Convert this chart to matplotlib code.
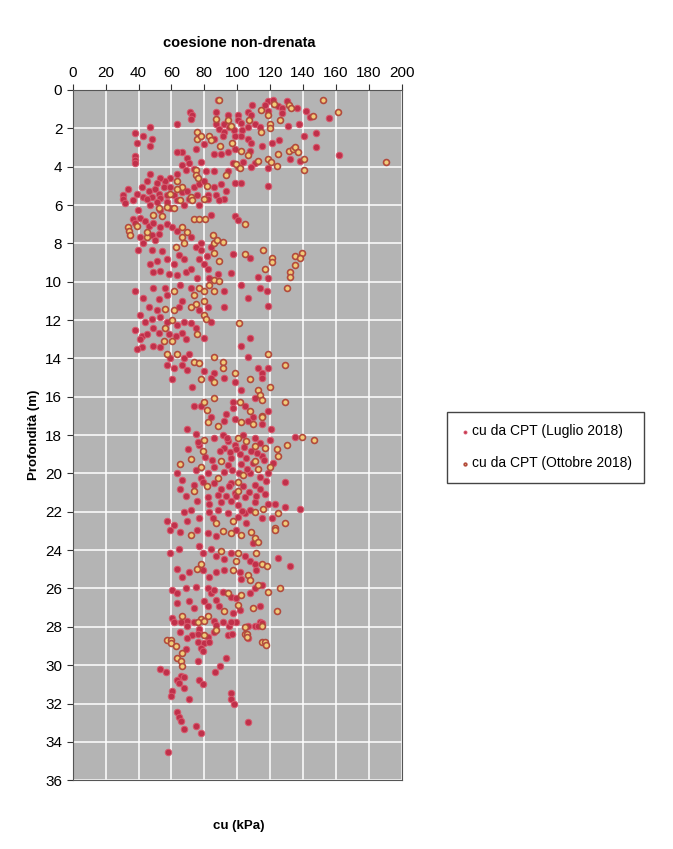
import matplotlib.pyplot as plt

plt.rcParams['font.family'] = ['Liberation Sans', 'DejaVu Sans']

# cu da CPT (Luglio 2018): cu [kPa], profondita [m]
cu_lug = [88.1, 118.5, 122, 130.2, 109, 116.8, 125, 127.1, 136.3, 141.9, 71.3, 72.7, 72.1, 87.1, 94.3,
          100.4, 106.6, 108.2, 118.9, 127.1, 137.3, 144.5, 155.8, 87.1, 92.2, 95.3, 100.4, 102.5, 89.1, 92.2,
          98, 102.9, 106.6, 110.7, 113.7, 102.5, 106.6, 108.6, 98.4, 91.2, 86.1, 79.9, 74.8, 90.2, 86.1,
          94.3, 98.4, 107.6, 114.8, 120.9, 125.4, 130.8, 140.4, 147.6, 147.6, 162, 132.2, 138.4, 118.9, 110.7,
          108.2, 103.5, 97.3, 100.4, 94.3, 86.1, 77.9, 69.6, 66.6, 63.5, 70.7, 66.6, 68.6, 73.7, 80.9,
          63.5, 59.4, 56.3, 53.2, 51.2, 47.1, 45, 42, 46.1, 50.2, 55.3, 59.4, 52.2, 57.3, 61.4,
          66.6, 69.6, 73.7, 76.8, 79.9, 86.1, 90.2, 93.2, 98.4, 102.5, 118.9, 33.7, 30.7, 38.9, 43,
          48.1, 53.2, 75.8, 82, 87.1, 92.2, 37.8, 38.9, 43, 47.1, 48.1, 46.7, 37.8, 37.8, 37.8, 63.5,
          30.7, 31.7, 36.8, 39.9, 45, 47.1, 51.2, 53.2, 57.3, 59.4, 63.5, 67.6, 70.7, 76.8, 82,
          89.1, 84, 98.4, 100.4, 36.8, 37.8, 40.9, 44, 46.1, 49.1, 53.2, 57.3, 60.4, 63.5, 71.7,
          40.9, 48.1, 50.2, 43, 52.2, 39.9, 48.1, 54.3, 57.3, 51.2, 47.1, 64.5, 67.6, 61.4, 49.1,
          53.2, 58.4, 63.5, 68.6, 74.8, 77.9, 76.8, 79.9, 81.9, 77.9, 84, 82, 88.1, 83, 75.8,
          71.7, 97.3, 96.3, 107.6, 112.7, 118.9, 37.8, 43, 49.1, 52.2, 56.3, 57.3, 65.5, 66.6, 71.7,
          92.2, 102.5, 106.6, 113.8, 117.9, 118.9, 92.2, 82,
          46.1, 51.2, 64.5, 76.8, 84, 40.9, 44, 48.1, 53.2, 57.3, 63.5, 67.6, 71.7, 74.8, 37.8,
          42, 40.9, 45, 49.1, 52.2, 58.4, 62.5, 66.6, 68.6, 79.9, 42, 49.1, 53.2, 59.4, 67.6,
          70.7, 57.3, 61.4, 66.6, 69.6, 60.4, 72.7, 107.6, 102.5, 106.6, 86.1, 84, 79.9, 92.2, 98.4,
          112.7, 114.8, 118.9, 114.8, 102.5, 73.7, 77.9, 97.3, 104.5, 110.7, 118.9, 93.2, 97.3, 109.6, 38.9,
          84, 92.2, 98.4, 106.6, 114.8, 69.6, 74.8, 76.8, 86.1, 91.2, 94.3, 92.2, 98.4, 103.5, 110.7,
          113.7, 119.9, 120.5, 135.3, 63.5, 66.6, 74.8, 82, 86.1, 94.3, 96.3, 102.5, 101.4, 105.6, 108.6,
          114.8, 107.6, 113.7, 118.9, 92.2, 77.9, 73.7, 78.9, 86.1, 90.2, 129.1, 96.3, 103.5, 110.7, 113.7,
          116.8, 98.4, 65.5, 68.6, 75.8, 82, 83, 90.2, 93.2, 96.3, 100.4, 104.5, 110.7, 118.9, 122.9,
          129.1, 138.3, 67.6, 71.7, 61.4, 69.6, 76.8, 83, 88.1, 94.3, 100.4, 104.5, 105.6, 114.8, 120.9,
          57.3, 95.5, 99.0, 104.0, 97.0, 101.0, 106.0, 109.5, 112.0, 116.0, 95.0, 99.5, 108.0, 111.5, 88.5,
          84.5, 80.5, 94.0, 117.5, 121.5, 89.5, 103.0, 107.0, 85.5, 76.0, 70.0,
          59.4, 65.5, 75.8, 82, 87.1, 99.4, 109.6, 59.4, 64.5, 76.8, 78.9, 84, 87.1, 92.2, 96.3,
          104.5, 107.6, 110.7, 125, 132.2, 79, 63.5, 66.6, 70.7, 82.9, 87.1, 92.2, 101.4, 102.5, 111.7,
          114.8, 60.4, 63.5, 68.6, 74.8, 82, 84, 86.1, 91.2, 96.3, 99.4, 107.6, 110.7, 63.5, 70.7,
          73.7, 79.9, 82, 87.1, 89.1, 97.3, 101.4, 113.7, 60.4, 69.6, 73.7, 86.1, 91.2, 95.3, 99.4,
          110.7, 113.7, 65.5, 72.7, 76.8, 82, 86.1, 94.3,
          61.5, 65.6, 87.2, 96.4, 106.7, 112.9, 114.9, 69.7, 76.9, 97.1, 106.7, 69.7, 75.9, 75.9, 80,
          83.1, 77.9, 79, 68.6, 93.4, 89.3, 86.2, 75.9, 53.3, 57, 65.6, 67.6, 63.6, 64.6, 76.9,
          79, 67.6, 60.5, 59.5, 70.8, 96, 96.4, 97.9, 63.6, 64.6, 65.6, 67.6, 74.9, 78, 106.7,
          57.9]
z_lug = [0.53, 0.55, 0.5, 0.55, 0.78, 0.78, 0.83, 0.92, 0.95, 1.08, 1.17, 1.33, 1.5, 1.17, 1.33,
         1.33, 1.17, 1.28, 1.08, 1.22, 1.75, 1.42, 1.45, 1.75, 1.75, 1.95, 1.58, 1.72, 2.05, 2.17,
         2.08, 2.08, 1.95, 1.75, 1.92, 2.42, 2.58, 2.75, 2.42, 2.42, 2.58, 2.83, 3.08, 3.33, 3.33,
         3.25, 3.08, 3.17, 2.92, 2.75, 2.62, 1.88, 2.38, 2.22, 2.95, 3.38, 3.58, 3.72, 4.08, 3.83,
         4.0, 3.75, 3.83, 4.0, 4.25, 4.25, 3.75, 3.55, 3.25, 3.22, 3.83, 3.92, 4.17, 4.12, 4.25,
         4.38, 4.58, 4.75, 4.58, 4.83, 4.38, 4.75, 5.08, 5.25, 5.17, 5.08, 5.08, 5.42, 5.5, 5.5,
         5.33, 5.25, 5.08, 4.92, 4.75, 5.08, 4.92, 5.25, 4.83, 4.83, 5.0, 5.17, 5.5, 5.42, 5.58,
         5.58, 5.62, 5.5, 5.5, 5.5, 5.67, 2.22, 2.75, 2.42, 1.95, 2.58, 2.92, 3.42, 3.67, 3.83, 1.75,
         5.67, 5.92, 5.75, 6.25, 5.67, 6.0, 5.83, 6.25, 5.83, 6.17, 5.75, 6.0, 5.67, 6.0, 5.67,
         5.75, 6.53, 6.58, 6.8, 6.75, 6.92, 6.67, 6.83, 7.08, 6.92, 7.17, 7.0, 7.17, 7.33, 7.67,
         7.67, 7.58, 7.83, 8.0, 7.5, 8.37, 8.33, 8.42, 8.83, 8.92, 9.08, 8.58, 8.83, 9.08, 9.5,
         9.42, 9.58, 9.67, 9.5, 8.17, 8.33, 8.83, 9.08, 8.67, 8.0, 8.17, 9.33, 9.58, 9.83, 9.83,
         9.33, 8.53, 9.55, 8.75, 9.75, 9.83, 10.5, 10.83, 10.33, 10.92, 10.33, 10.67, 10.17, 11.0, 10.33,
         10.5, 10.17, 10.83, 10.33, 10.5, 11.25, 11.33, 11.33,
         11.33, 11.5, 11.33, 11.5, 12.08, 11.75, 12.08, 11.92, 11.83, 12.08, 12.25, 12.08, 12.17, 12.42, 12.5,
         12.83, 13.0, 12.75, 12.42, 12.67, 12.75, 12.83, 12.67, 13.0, 12.92, 13.42, 13.33, 13.42, 14.0, 14.0,
         13.75, 14.33, 14.5, 14.33, 14.58, 15.08, 15.5, 12.92, 13.33, 13.92, 14.75, 15.0, 14.67, 15.0, 15.25,
         14.5, 14.75, 14.5, 15.0, 15.67, 16.5, 16.5, 16.25, 16.5, 16.08, 16.75, 16.92, 16.58, 17.08, 13.5,
         17.08, 17.25, 17.17, 17.25, 17.42, 17.67, 17.92, 18.5, 18.17, 18.0, 18.33, 18.67, 18.5, 18.0, 18.17,
         18.42, 18.25, 17.67, 18.08, 20.0, 20.33, 19.83, 20.0, 19.67, 19.58, 19.17, 19.5, 19.0, 19.17, 18.83,
         19.08, 20.0, 20.17, 20.0, 19.92, 20.25, 20.58, 20.42, 20.5, 20.83, 20.42, 20.5, 20.67, 20.58, 20.83,
         21.08, 21.0, 20.83, 21.17, 21.42, 21.25, 21.58, 21.5, 21.17, 21.42, 21.67, 21.25, 21.5, 21.58, 21.58,
         21.75, 21.83, 22.0, 21.92, 22.67, 22.5, 22.33, 22.0, 21.92, 22.08, 22.25, 22.08, 22.58, 22.33, 22.33,
         22.5, 18.9, 18.75, 18.6, 19.8, 19.95, 19.75, 19.45, 18.95, 19.3, 20.65, 21.2, 21.9, 21.15, 21.1,
         19.3, 19.15, 18.15, 20.4, 19.45, 18.85, 21.95, 20.95, 22.3, 18.35, 18.7,
         22.94, 23.03, 22.94, 23.1, 23.28, 22.94, 23.62, 24.13, 23.96, 23.79, 24.13, 23.96, 24.3, 24.47, 24.13,
         24.3, 24.55, 24.72, 24.39, 24.81, 25.06, 24.98, 25.4, 25.15, 25.4, 25.15, 25.06, 25.15, 25.49, 25.06,
         25.83, 26.08, 26.25, 25.99, 25.91, 25.99, 26.25, 26.08, 26.16, 26.42, 26.5, 26.25, 25.99, 26.76, 26.67,
         27.01, 26.67, 26.93, 26.59, 26.93, 27.27, 27.1, 26.93, 27.52, 27.69, 27.77, 27.69, 27.77, 27.94, 27.77,
         27.94, 27.77, 28.28, 28.45, 28.28, 28.54, 28.28, 28.45,
         27.77, 27.77, 27.9, 27.77, 27.98, 27.98, 27.8, 27.98, 28.1, 28.38, 28.6, 28.6, 28.35, 28.77, 28.85,
         28.77, 29.1, 29.25, 29.18, 29.6, 30.02, 30.35, 29.8, 30.18, 30.35, 30.55, 30.6, 30.77, 30.93, 30.77,
         30.98, 31.18, 31.35, 31.6, 31.77, 31.43, 31.77, 32.02, 32.43, 32.68, 32.93, 33.35, 33.15, 33.55, 32.98,
         34.55]

# cu da CPT (Ottobre 2018)
cu_ott = [89.1, 152, 161, 146, 122.4, 131.2, 132.8, 114.4, 118.9, 119.9, 119.9, 126, 107, 114.4, 96.3,
          87.1, 94.3, 75.8, 75.8, 77.8, 83, 84, 96.7, 89.7, 102.5, 106.6, 112.7, 118.9, 120.5, 124,
          124.6, 131.2, 133.6, 135.3, 136.9, 140.4, 140.4, 190.6, 99.4, 101.4, 93.2, 74.8, 74.8, 76.2, 63.5,
          66.6, 81.5, 63.5, 59.4, 71.7,
          52.2, 57.3, 61.4, 65.5, 72.7, 79.9, 49.1, 54.3, 73.7, 76.8, 80.3, 104.5, 33.7, 34.4, 34.8,
          38.9, 66.6, 66.6, 69.6, 67.6, 45, 45, 62.5, 86.1, 85, 88, 91.2, 86.1, 89.1, 86.1,
          104.5, 115.8, 121.3, 121.3, 116.8, 135.3, 139.4, 138.3, 134.9, 132.2, 132.2, 130.2, 61.4, 73.7, 76.8,
          79.9, 83, 86.1, 89.1, 74.8, 79.9,
          56.3, 61.4, 71.7, 79.9, 81, 60.4, 56.3, 55.3, 60.4, 75.8, 57.3, 63.5, 73.7, 76.8, 100.8,
          118.9, 129.1, 86.1, 91.2, 91.2, 98.4, 77.9, 86.1, 107.6, 112.7, 119.9, 129.1, 79.9, 86.1, 81.9,
          101.4, 107.6, 113.8, 114.8, 114.8,
          82, 88.1, 102.5, 109.6, 114.8, 79.9, 78.9, 100.4, 105.6, 110.7, 116.8, 124, 125, 130.2, 139.4,
          146.6, 65.5, 71.7, 77.9, 90.2, 110.7, 119.9, 112.7, 103.5, 88.1, 81.9, 73.7, 100.4, 100.4, 115.8,
          125, 87.1, 97.3, 110.7, 129.1, 122.9,
          71.7, 91.2, 96.3, 102.5, 108.6, 110.7, 112.7, 123, 90.2, 100.4, 99.4, 111.7, 114.8, 117.9, 77.9,
          75.8, 97.3, 106.6, 107.6, 112.7, 94.3, 102.5, 118.9, 126, 92.2, 100.4, 109.6, 124, 66.6, 77.9,
          82, 104.5, 104.5, 114.8, 57.3,
          75.9, 80, 114.9, 87.2, 105.7, 106.1, 117, 117.6, 59.9, 59.9, 62.5, 80, 66.7, 63.6, 65.6,
          66.7]
z_ott = [0.53, 0.53, 1.17, 1.37, 0.72, 0.78, 0.95, 1.05, 1.33, 1.75, 2.0, 1.55, 1.55, 2.17, 1.88,
         1.5, 1.55, 2.17, 2.58, 2.38, 2.42, 2.62, 2.75, 2.92, 3.17, 3.38, 3.72, 3.58, 3.75, 3.95,
         3.33, 3.17, 3.08, 2.95, 3.25, 3.58, 4.17, 3.78, 3.88, 4.05, 4.42, 4.17, 4.42, 4.58, 4.75,
         5.05, 5.0, 5.17, 5.42, 5.58,
         6.17, 6.08, 6.17, 5.75, 5.75, 5.67, 6.5, 6.58, 6.75, 6.75, 6.75, 6.97, 7.17, 7.37, 7.58,
         7.08, 7.17, 7.67, 7.42, 8.0, 7.67, 7.42, 8.17, 8.0, 7.58, 7.83, 7.92, 8.5, 8.92, 9.92,
         8.53, 8.33, 8.75, 8.95, 9.33, 8.67, 8.5, 8.75, 9.13, 9.5, 9.75, 10.33, 10.5, 10.67, 10.33,
         10.5, 10.17, 10.5, 9.97, 11.17, 11.0,
         11.42, 11.5, 11.33, 11.75, 11.92, 12.0, 12.42, 13.08, 13.08, 12.75, 13.75, 13.75, 14.17, 14.25, 12.17,
         13.75, 14.33, 13.92, 14.17, 14.5, 14.75, 15.08, 15.25, 15.08, 15.67, 15.5, 16.25, 16.25, 16.08, 16.67,
         16.25, 16.75, 15.92, 16.17, 17.0,
         17.33, 17.5, 17.33, 17.42, 17.08, 18.25, 18.83, 18.17, 18.33, 18.58, 18.67, 18.75, 19.08, 18.5, 18.08,
         18.25, 19.5, 19.25, 19.67, 19.33, 19.33, 19.67, 19.75, 20.08, 20.25, 20.67, 20.92, 20.42, 20.92, 21.83,
         22.08, 22.58, 22.5, 22.0, 22.58, 22.83,
         23.2, 23.0, 23.1, 23.2, 23.03, 23.37, 23.6, 22.94, 24.05, 24.13, 24.55, 24.13, 24.72, 24.81, 24.72,
         24.98, 25.06, 25.32, 25.57, 25.83, 26.25, 26.33, 26.16, 25.99, 27.18, 26.84, 27.01, 27.18, 27.44, 27.6,
         27.44, 28.03, 28.37, 28.79, 28.71,
         27.77, 27.7, 27.98, 28.18, 28.35, 28.52, 28.77, 28.93, 28.68, 28.85, 29.02, 28.43, 29.35, 29.6, 29.8,
         30.02]

xticks = list(range(0, 201, 20))
yticks = list(range(0, 37, 2))

fig = plt.figure(figsize=(6.73, 8.49), dpi=100)
ax = fig.add_axes([0.108, 0.081, 0.489, 0.813])
ax.set_facecolor('#b4b4b4')

ax.scatter(cu_lug, z_lug, s=22, c='#c0304a', edgecolors='#d8586c', linewidths=0.7,
           label='cu da CPT (Luglio 2018)', zorder=3)
ax.scatter(cu_ott, z_ott, s=18, c='#f1cc78', edgecolors='#b24a3c', linewidths=1.2,
           label='cu da CPT (Ottobre 2018)', zorder=4)

ax.set_xlim(0, 200)
ax.set_ylim(36, 0)
ax.set_xticks(xticks)
ax.set_yticks(yticks)
ax.xaxis.tick_top()
ax.tick_params(axis='both', labelsize=11, length=4, color='#333333', direction='out')
ax.grid(True, color='white', linewidth=1.1)
ax.set_axisbelow(True)
for sp in ax.spines.values():
    sp.set_color('#555555')

ax.set_ylabel('Profondità (m)', fontsize=9.5, fontweight='bold', labelpad=4)
fig.text(0.355, 0.024, 'cu (kPa)', ha='center', fontsize=9.5, fontweight='bold')
fig.text(0.355, 0.945, 'coesione non-drenata', ha='center', fontsize=10.5, fontweight='bold')

leg = fig.legend(loc='center left', bbox_to_anchor=(0.664, 0.473), borderaxespad=0,
                 fontsize=10, markerscale=0.45, handletextpad=0.1, handlelength=0.8,
                 borderpad=0.9, labelspacing=1.3, fancybox=False, edgecolor='#444444',
                 framealpha=1)
leg.get_frame().set_linewidth(1.0)

plt.savefig('out.png', dpi=100)
plt.close()
